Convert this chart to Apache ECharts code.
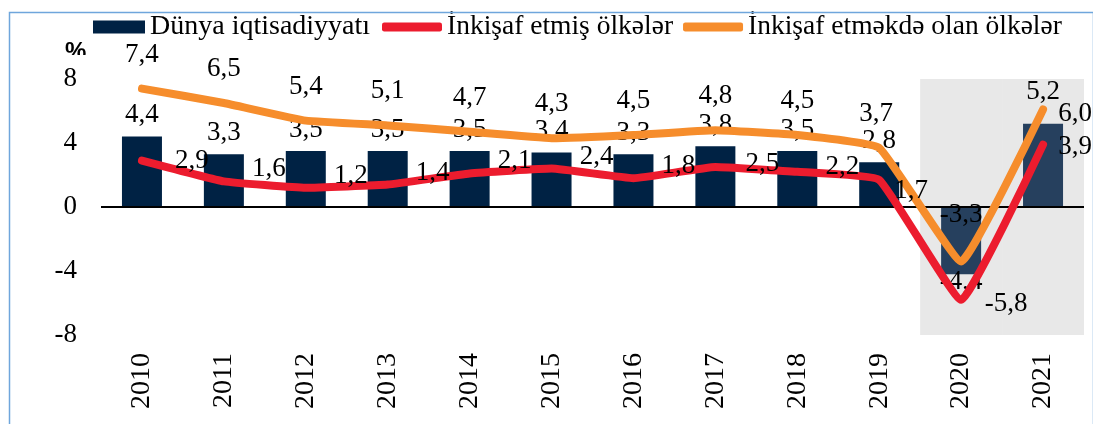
<!DOCTYPE html>
<html>
<head>
<meta charset="utf-8">
<script src="https://cdn.jsdelivr.net/npm/echarts@6/dist/echarts.min.js"></script>
<style>html,body{margin:0;padding:0;background:#fff;}#c{width:1093px;height:424px;}</style>
</head>
<body>
<div id="c"></div>
<script>
// ---- data ----
var years = ['2010','2011','2012','2013','2014','2015','2016','2017','2018','2019','2020','2021'];
var worldValues      = [4.4, 3.3, 3.5, 3.5, 3.5, 3.4, 3.3, 3.8, 3.5, 2.8, -4.2, 5.2];
var worldLabels      = ['4,4','3,3','3,5','3,5','3,5','3,4','3,3','3,8','3,5','2,8','-4,4','6,0'];
var developedValues  = [2.9, 1.6, 1.2, 1.4, 2.1, 2.4, 1.8, 2.5, 2.2, 1.7, -5.8, 3.9];
var developedLabels  = ['2,9','1,6','1,2','1,4','2,1','2,4','1,8','2,5','2,2','1,7','-5,8','3,9'];
var developingValues = [7.4, 6.5, 5.4, 5.1, 4.7, 4.3, 4.5, 4.8, 4.5, 3.7, -3.4, 6.1];
var developingLabels = ['7,4','6,5','5,4','5,1','4,7','4,3','4,5','4,8','4,5','3,7','-3,3','5,2'];
var shadedYears = ['2020','2021'];
var seriesNames = ['Dünya iqtisadiyyatı','İnkişaf etmiş ölkələr','İnkişaf etməkdə olan ölkələr'];
var yMin = -8, yMax = 8, yStep = 4;

// ---- styles ----
var FONT = 'Liberation Serif';
var navy = '#002244', navyLight = '#26405E', red = '#EC1C2E', orange = '#F68D2C', shade = '#E8E8E8';

// label offset tweaks (styling only)
var redOffsets = {0:[50,0], 7:[47,-3], 8:[45,-5], 9:[32,11], 10:[45,4], 11:[32,2]};
var orangeOffsets = {9:[-3,-34], 10:[0,-46], 11:[0,-17]};

var barData = worldValues.map(function(v,i){
  var shaded = shadedYears.indexOf(years[i]) >= 0;
  var item = {value: v, itemStyle: {color: shaded ? navyLight : navy}, label: {}};
  if (v < 0) { item.label.position = 'bottom'; item.label.distance = -6; }
  if (i === years.length - 1) { item.label.offset = [32, 12]; }
  return item;
});
var redData = developedValues.map(function(v,i){
  return {value: v, label: {offset: redOffsets[i] || [45,-12]}};
});
var orangeData = developingValues.map(function(v,i){
  return {value: v, label: {offset: orangeOffsets[i] || [0,-34]}};
});
var bgTop = years.map(function(y){ return shadedYears.indexOf(y) >= 0 ? yMax : null; });
var bgBottom = years.map(function(y){ return shadedYears.indexOf(y) >= 0 ? yMin : null; });

var labelText = {color:'#000', fontFamily: FONT, fontSize: 27};

var chart = echarts.init(document.getElementById('c'));
chart.setOption({
  animation: false,
  backgroundColor: '#fff',
  grid: {left: 101, right: 9, top: 79, bottom: 89},
  legend: [
    {data: [seriesNames[0]], left: 93, top: 13, padding: 0, itemWidth: 52, itemHeight: 13, icon: 'rect',
     textStyle: {color:'#000', fontFamily: FONT, fontSize: 28}},
    {data: [seriesNames[1], seriesNames[2]], left: 382, top: 13, padding: 0, itemWidth: 60, itemHeight: 9, icon: 'roundRect', itemGap: 10,
     textStyle: {color:'#000', fontFamily: FONT, fontSize: 27.5}}
  ],
  xAxis: [
    {type: 'category', data: years, axisLine: {show: false, onZero: false}, axisTick: {show: false},
     axisLabel: {rotate: 90, margin: 18, color: '#000', fontFamily: FONT, fontSize: 28}},
    {type: 'category', data: years, show: false}
  ],
  yAxis: {type: 'value', min: yMin, max: yMax, interval: yStep,
    axisLine: {show: false}, axisTick: {show: false}, splitLine: {show: false},
    axisLabel: {margin: 24, color: '#000', fontFamily: FONT, fontSize: 27}},
  series: [
    {type: 'bar', xAxisIndex: 1, data: bgTop, barWidth: '100%', barGap: '-100%', silent: true, z: 0,
     itemStyle: {color: shade}},
    {type: 'bar', xAxisIndex: 1, data: bgBottom, barWidth: '100%', barGap: '-100%', silent: true, z: 0,
     itemStyle: {color: shade}},
    {name: seriesNames[0], type: 'bar', data: barData, barWidth: 40, z: 2,
     itemStyle: {color: navy},
     label: Object.assign({show: true, position: 'top', distance: 8,
       formatter: function(p){ return worldLabels[p.dataIndex]; }}, labelText),
     markLine: {silent: true, symbol: 'none', label: {show: false}, z: 3,
       lineStyle: {color: '#000', width: 2, type: 'solid'}, data: [{yAxis: 0}]}},
    {name: seriesNames[1], type: 'line', data: redData, smooth: 0.1, z: 4,
     symbol: 'circle', symbolSize: 1, itemStyle: {color: red},
     lineStyle: {color: red, width: 8, cap: 'round', join: 'round'},
     label: Object.assign({show: true, position: 'inside',
       formatter: function(p){ return developedLabels[p.dataIndex]; }}, labelText)},
    {name: seriesNames[2], type: 'line', data: orangeData, smooth: 0.1, z: 4,
     symbol: 'circle', symbolSize: 1, itemStyle: {color: orange},
     lineStyle: {color: orange, width: 8, cap: 'round', join: 'round'},
     label: Object.assign({show: true, position: 'inside',
       formatter: function(p){ return developingLabels[p.dataIndex]; }}, labelText)}
  ],
  graphic: [
    {type: 'text', left: 65, top: 40, z: 10,
     style: {text: '%', fill: '#000', font: 'bold 24px "Liberation Sans"'}},
    {type: 'rect', left: 60, top: 55, z: 11, shape: {width: 30, height: 12}, style: {fill: '#fff'}},
    {type: 'rect', left: 7, top: 10, z: 20, silent: true,
     shape: {width: 1084, height: 430}, style: {fill: 'none', stroke: '#6FA6DC', lineWidth: 1.5}}
  ]
});
</script>
</body>
</html>
